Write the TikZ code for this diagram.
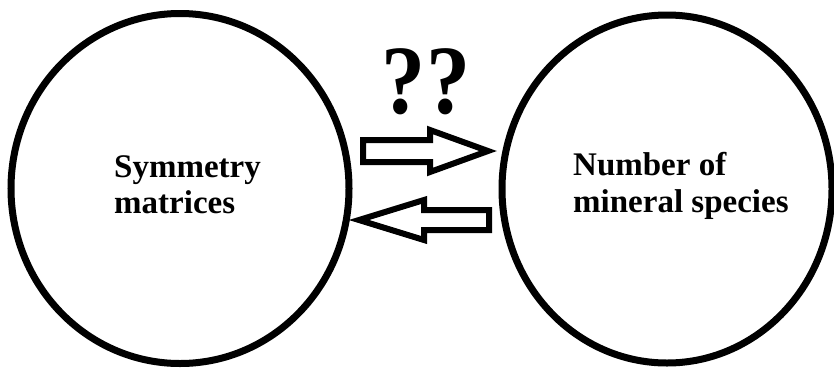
\documentclass[tikz,border=0pt]{standalone}
\usepackage{fontspec}
\setmainfont{Liberation Serif}
\usetikzlibrary{shapes.geometric}
\begin{document}
\begin{tikzpicture}[x=1pt,y=-1pt,
  setoval/.style={draw=black, line width=7pt, ellipse, inner sep=0pt, outer sep=0pt},
  blockarrow/.style={draw=black, fill=white, line width=6pt, line join=miter, miter limit=10},
  label/.style={anchor=base west, inner sep=0pt, font=\fontsize{33}{36}\selectfont\bfseries},
  qmark/.style={anchor=base, inner sep=0pt, font=\fontsize{98}{100}\selectfont\bfseries}]
\useasboundingbox[fill=white] (0,0) rectangle (834,367);
\node[setoval, minimum width=338pt, minimum height=350pt] (sym) at (180,188.5) {};
\node[setoval, minimum width=330pt, minimum height=348pt] (num) at (667,189) {};
\node[label] (t1) at (114,177) {Symmetry};
\node[label] (t2) at (114,213) {matrices};
\node[label] (t3) at (573,175) {Number of};
\node[label] (t4) at (573,212) {mineral species};
\node[qmark] (q) at (426,113) {\scalebox{0.9}[1]{??}};
\draw[blockarrow] (363,140) -- (430,140) -- (430,130) -- (488,151) -- (430,172) -- (430,162) -- (363,162) -- cycle;
\draw[blockarrow] (489,210) -- (424,210) -- (424,200) -- (359,220) -- (424,240) -- (424,230) -- (489,230) -- cycle;
\end{tikzpicture}
\end{document}
